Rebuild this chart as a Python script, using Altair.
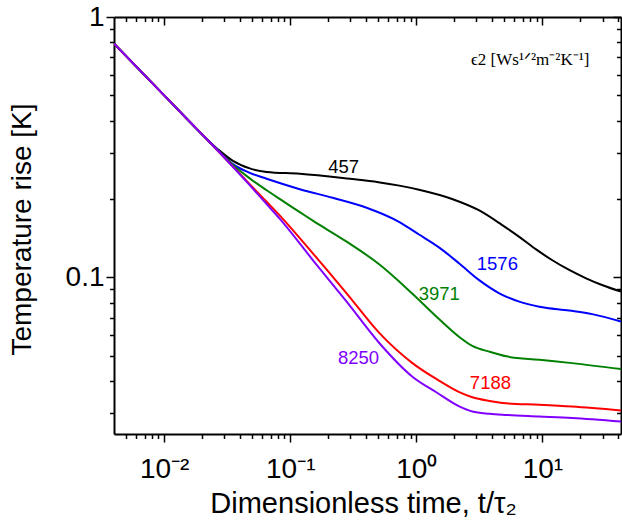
import altair as alt
import pandas as pd

# ---------------- data ----------------
series_names = ["457", "1576", "3971", "7188", "8250"]
series_colors = ["#000000", "#0000FF", "#008000", "#FF0000", "#8000FF"]

x_457 = [0.004, 0.01, 0.0192, 0.0276, 0.0351, 0.0477, 0.065, 0.119, 0.297, 0.5, 0.734, 1.05,
         1.92, 3.13, 4.77, 6.55, 8.91, 11.9, 16.3, 22.2, 29.7, 42]
y_457 = [0.79, 0.50, 0.361, 0.306, 0.280, 0.262, 0.254, 0.250, 0.239, 0.232, 0.225, 0.217,
         0.200, 0.181, 0.159, 0.143, 0.128, 0.1165, 0.1067, 0.0991, 0.0934, 0.0881]

x_1576 = [0.004, 0.01, 0.0192, 0.0276, 0.0351, 0.0477, 0.065, 0.119, 0.217, 0.403,
          0.734, 1.05, 1.52, 2.19, 3.13, 4.55, 6.55, 9.44, 16.3, 24.8, 42]
y_1576 = [0.79, 0.50, 0.361, 0.303, 0.272, 0.252, 0.239, 0.218, 0.202, 0.185,
          0.163, 0.146, 0.130, 0.113, 0.0977, 0.0868, 0.0806, 0.0771, 0.0745, 0.0722, 0.0676]

x_3971 = [0.004, 0.01, 0.0192, 0.0276, 0.0351, 0.0477, 0.065, 0.0824, 0.119, 0.151, 0.28,
          0.51, 0.931, 1.52, 2.19, 2.78, 3.79, 5.17, 9.44, 17.2, 42]
y_3971 = [0.79, 0.50, 0.361, 0.302, 0.270, 0.240, 0.216, 0.200, 0.178, 0.165, 0.137,
          0.112, 0.0865, 0.0690, 0.0590, 0.0545, 0.0518, 0.0497, 0.0482, 0.0468, 0.0444]

x_7188 = [0.004, 0.01, 0.0192, 0.0276, 0.0477, 0.065, 0.0824, 0.151, 0.28, 0.51, 0.931,
          1.46, 2.19, 2.78, 3.8, 5.17, 9.44, 17.2, 42]
y_7188 = [0.79, 0.50, 0.361, 0.301, 0.228, 0.195, 0.173, 0.1236, 0.0868, 0.0610, 0.0468,
          0.0405, 0.0362, 0.0346, 0.0335, 0.0328, 0.0324, 0.0319, 0.0308]

x_8250 = [0.004, 0.01, 0.0192, 0.0276, 0.0477, 0.065, 0.0824, 0.151, 0.28, 0.51, 0.931,
          1.46, 2.19, 2.78, 3.8, 5.17, 9.44, 17.2, 42]
y_8250 = [0.79, 0.50, 0.361, 0.301, 0.226, 0.191, 0.168, 0.1165, 0.0806, 0.0558, 0.0415,
          0.0360, 0.0319, 0.0305, 0.0299, 0.0296, 0.0292, 0.0288, 0.0279]

label_x = [0.265, 4.39, 1.52, 3.87, 0.348]
label_y = [0.265, 0.1125, 0.0863, 0.0393, 0.049]

note_text = ["\u03f52 [Ws\u00b9\u141f\u00b2m\u207b\u00b2K\u207b\u00b9]"]
note_x = [8.0]
note_y = [0.682]

x_major = [0.01, 0.1, 1, 10]
x_minor = [0.005, 0.006, 0.007, 0.008, 0.009,
           0.02, 0.03, 0.04, 0.05, 0.06, 0.07, 0.08, 0.09,
           0.2, 0.3, 0.4, 0.5, 0.6, 0.7, 0.8, 0.9,
           2, 3, 4, 5, 6, 7, 8, 9, 20, 30, 40]
y_major = [0.1, 1]
y_minor = [0.03, 0.04, 0.05, 0.06, 0.07, 0.08, 0.09,
           0.2, 0.3, 0.4, 0.5, 0.6, 0.7, 0.8, 0.9]

# ---------------- tables ----------------
all_x = [x_457, x_1576, x_3971, x_7188, x_8250]
all_y = [y_457, y_1576, y_3971, y_7188, y_8250]
rows = []
for name, xs, ys in zip(series_names, all_x, all_y):
    for i, (xv, yv) in enumerate(zip(xs, ys)):
        rows.append({"series": name, "t": xv, "T": yv, "k": i})
df = pd.DataFrame(rows)

labels_df = pd.DataFrame({"t": label_x, "T": label_y, "text": series_names, "color": series_colors})
note_df = pd.DataFrame({"t": note_x, "T": note_y, "text": note_text})

W, H = 507, 417
FONT = "Liberation Sans"
xscale = alt.Scale(type="log", domain=[0.004, 42], nice=False)
yscale = alt.Scale(type="log", domain=[0.025, 1], nice=False)

x_lbl = ("datum.value < 0.05 ? '10\u207b\u00b2' : datum.value < 0.5 ? '10\u207b\u00b9' : "
         "datum.value < 5 ? '10\u2070' : '10\u00b9'")
y_lbl = "datum.value < 0.5 ? '0.1' : '1'"

common_axis = dict(grid=False, tickColor="black", domainColor="black", tickWidth=1.5, domainWidth=2)

ax_x_main = alt.Axis(orient="bottom", values=x_major, labelExpr=x_lbl, tickSize=8,
                     labelFont=FONT, labelFontSize=28, labelColor="black", labelPadding=35,
                     labelBaseline="alphabetic", labelFlush=False, labelOverlap=False,
                     title="Dimensionless time, t/\u03c4\u2082", titleFont=FONT, titleFontSize=29,
                     titleFontWeight="normal", titleColor="black", titleX=249, titleY=78,
                     titleAlign="center", titleBaseline="alphabetic", **common_axis)
ax_y_main = alt.Axis(orient="left", values=y_major, labelExpr=y_lbl, tickSize=8,
                     labelFont=FONT, labelFontSize=28, labelColor="black", labelPadding=2,
                     labelBaseline="middle", labelFlush=False, labelOverlap=False,
                     title="Temperature rise [K]", titleFont=FONT, titleFontSize=28,
                     titleFontWeight="normal", titleColor="black", titleX=-84, titleY=212,
                     titleAngle=270, titleAlign="center", titleBaseline="alphabetic", **common_axis)

ax_x_minor = alt.Axis(orient="bottom", values=x_minor, tickSize=4.5, labels=False, domain=False,
                      title=None, **common_axis)
ax_y_minor = alt.Axis(orient="left", values=y_minor, tickSize=4.5, labels=False, domain=False,
                      title=None, **common_axis)

ax_x_top = alt.Axis(orient="bottom", offset=-H, values=x_major, tickSize=8, labels=False,
                    title=None, **common_axis)
ax_y_right = alt.Axis(orient="left", offset=-W, values=y_major, tickSize=8, labels=False,
                      title=None, **common_axis)
ax_x_top_minor = alt.Axis(orient="bottom", offset=-H, values=x_minor, tickSize=4.5, labels=False,
                          domain=False, title=None, **common_axis)
ax_y_right_minor = alt.Axis(orient="left", offset=-W, values=y_minor, tickSize=4.5, labels=False,
                            domain=False, title=None, **common_axis)

base = alt.Chart(df)

lines = base.mark_line(strokeWidth=2, interpolate="monotone", clip=True).encode(
    x=alt.X("t:Q", scale=xscale, axis=ax_x_main),
    y=alt.Y("T:Q", scale=yscale, axis=ax_y_main),
    color=alt.Color("series:N", scale=alt.Scale(domain=series_names, range=series_colors), legend=None),
    order="k:Q",
)

def axis_layer(ax, ay):
    return base.mark_point(opacity=0).encode(
        x=alt.X("t:Q", scale=xscale, axis=ax),
        y=alt.Y("T:Q", scale=yscale, axis=ay),
    )

minor = axis_layer(ax_x_minor, ax_y_minor)
mirror = axis_layer(ax_x_top, ax_y_right)
mirror_minor = axis_layer(ax_x_top_minor, ax_y_right_minor)

texts = alt.Chart(labels_df).mark_text(font=FONT, fontSize=18.5, align="center", baseline="middle").encode(
    x=alt.X("t:Q", scale=xscale, axis=None),
    y=alt.Y("T:Q", scale=yscale, axis=None),
    text="text:N",
    color=alt.Color("color:N", scale=None),
)

note = alt.Chart(note_df).mark_text(font="Liberation Serif", fontSize=17, align="center",
                                    baseline="middle", color="black").encode(
    x=alt.X("t:Q", scale=xscale, axis=None),
    y=alt.Y("T:Q", scale=yscale, axis=None),
    text="text:N",
)

chart = alt.layer(minor, mirror, mirror_minor, lines, texts, note).resolve_axis(
    x="independent", y="independent"
).properties(
    width=W, height=H,
    autosize=alt.AutoSizeParams(type="none"),
    padding={"left": 114, "top": 17, "right": 1, "bottom": 97},
    background="white",
).configure_view(stroke=None)

chart.save("out.html", embed_options={"renderer": "svg", "actions": False})
